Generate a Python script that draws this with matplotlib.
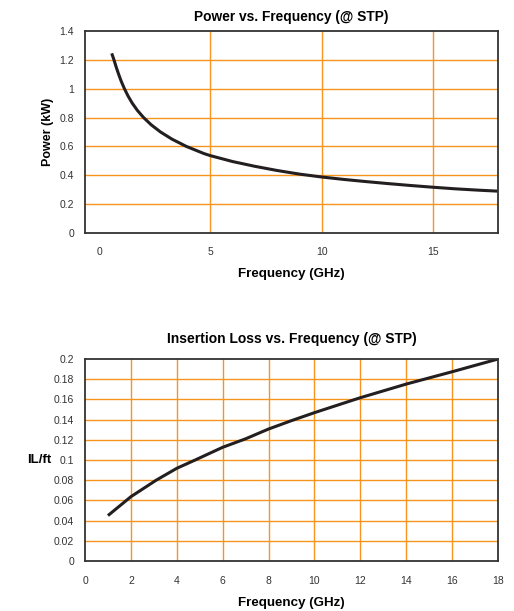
import matplotlib
matplotlib.use("Agg")
import matplotlib.pyplot as plt

plt.rcParams["font.family"] = ["Liberation Sans", "DejaVu Sans"]

# Power vs frequency
power_freq = [0.57, 0.67, 0.77, 0.88, 1.00, 1.14, 1.30, 1.49, 1.72, 2.00, 2.34,
              2.76, 3.28, 3.92, 4.72, 5.0, 6.0, 7.0, 8.0, 9.0, 10.0, 11.0, 12.0,
              13.0, 14.0, 15.0, 16.0, 17.0, 17.9]
power_kw = [1.245, 1.2, 1.15, 1.1, 1.05, 1.0, 0.95, 0.9, 0.85, 0.8, 0.75,
            0.7, 0.65, 0.6, 0.55, 0.536, 0.495, 0.462, 0.433, 0.408, 0.388, 0.371,
            0.356, 0.342, 0.329, 0.317, 0.306, 0.297, 0.29]

# Insertion loss vs frequency
il_freq = [1.0, 2.0, 3.1, 4.0, 4.8, 6.0, 7.0, 8.0, 9.0, 10.0, 12.0, 14.0, 16.0, 18.0]
il_ft = [0.045, 0.0637, 0.08, 0.0918, 0.1, 0.1126, 0.121, 0.1307, 0.139, 0.1469,
         0.1617, 0.1752, 0.1874, 0.2]

grid_color = "#f7941d"
line_color = "#231f20"
tick_color = "#333333"

fig = plt.figure(figsize=(5.14, 6.11), dpi=100)

# --- top chart ---
ax1 = fig.add_axes([0.1654, 0.6187, 0.8035, 0.3306])
ax1.plot(power_freq, power_kw, color=line_color, lw=2.2,
         solid_capstyle="butt", solid_joinstyle="round")
ax1.set_xlim(-0.63, 17.92)
ax1.set_ylim(0, 1.4)
ax1.set_xticks([0, 5, 10, 15])
ax1.set_yticks([0, 0.2, 0.4, 0.6, 0.8, 1.0, 1.2, 1.4])
ax1.set_yticklabels(["0", "0.2", "0.4", "0.6", "0.8", "1", "1.2", "1.4"])
for v in [5, 10, 15]:
    ax1.axvline(v, color=grid_color, lw=1.0, zorder=0)
for v in [0.2, 0.4, 0.6, 0.8, 1.0, 1.2]:
    ax1.axhline(v, color=grid_color, lw=1.0, zorder=0)
ax1.tick_params(length=0, labelsize=7.5, colors=tick_color)
ax1.tick_params(axis="x", pad=10)
ax1.tick_params(axis="y", pad=8)
ax1.set_title("Power vs. Frequency (@ STP)", fontsize=9.9, fontweight="bold", pad=7)
ax1.set_xlabel("Frequency (GHz)", fontsize=9.6, fontweight="bold", labelpad=8)
ax1.set_ylabel("Power (kW)", fontsize=9, fontweight="bold", labelpad=4)

# --- bottom chart ---
ax2 = fig.add_axes([0.1654, 0.0818, 0.8035, 0.3306])
ax2.plot(il_freq, il_ft, color=line_color, lw=2.2,
         solid_capstyle="butt", solid_joinstyle="round")
ax2.set_xlim(0, 18)
ax2.set_ylim(0, 0.2)
ax2.set_xticks(range(0, 19, 2))
yt = [i * 0.02 for i in range(11)]
ax2.set_yticks(yt)
ax2.set_yticklabels(["0", "0.02", "0.04", "0.06", "0.08", "0.1", "0.12", "0.14",
                     "0.16", "0.18", "0.2"])
for v in range(2, 18, 2):
    ax2.axvline(v, color=grid_color, lw=1.0, zorder=0)
for v in yt[1:-1]:
    ax2.axhline(v, color=grid_color, lw=1.0, zorder=0)
ax2.tick_params(length=0, labelsize=7.5, colors=tick_color)
ax2.tick_params(axis="x", pad=10.5)
ax2.tick_params(axis="y", pad=8)
ax2.set_title("Insertion Loss vs. Frequency (@ STP)", fontsize=10, fontweight="bold", pad=11.5)
ax2.set_xlabel("Frequency (GHz)", fontsize=9.6, fontweight="bold", labelpad=8)
ax2.set_ylabel("IL/ft", fontsize=9.5, fontweight="bold", rotation=0, labelpad=10, va="center")

for ax in (ax1, ax2):
    for s in ax.spines.values():
        s.set_linewidth(1.3)
        s.set_color(tick_color)

fig.savefig("out.png", dpi=100)
